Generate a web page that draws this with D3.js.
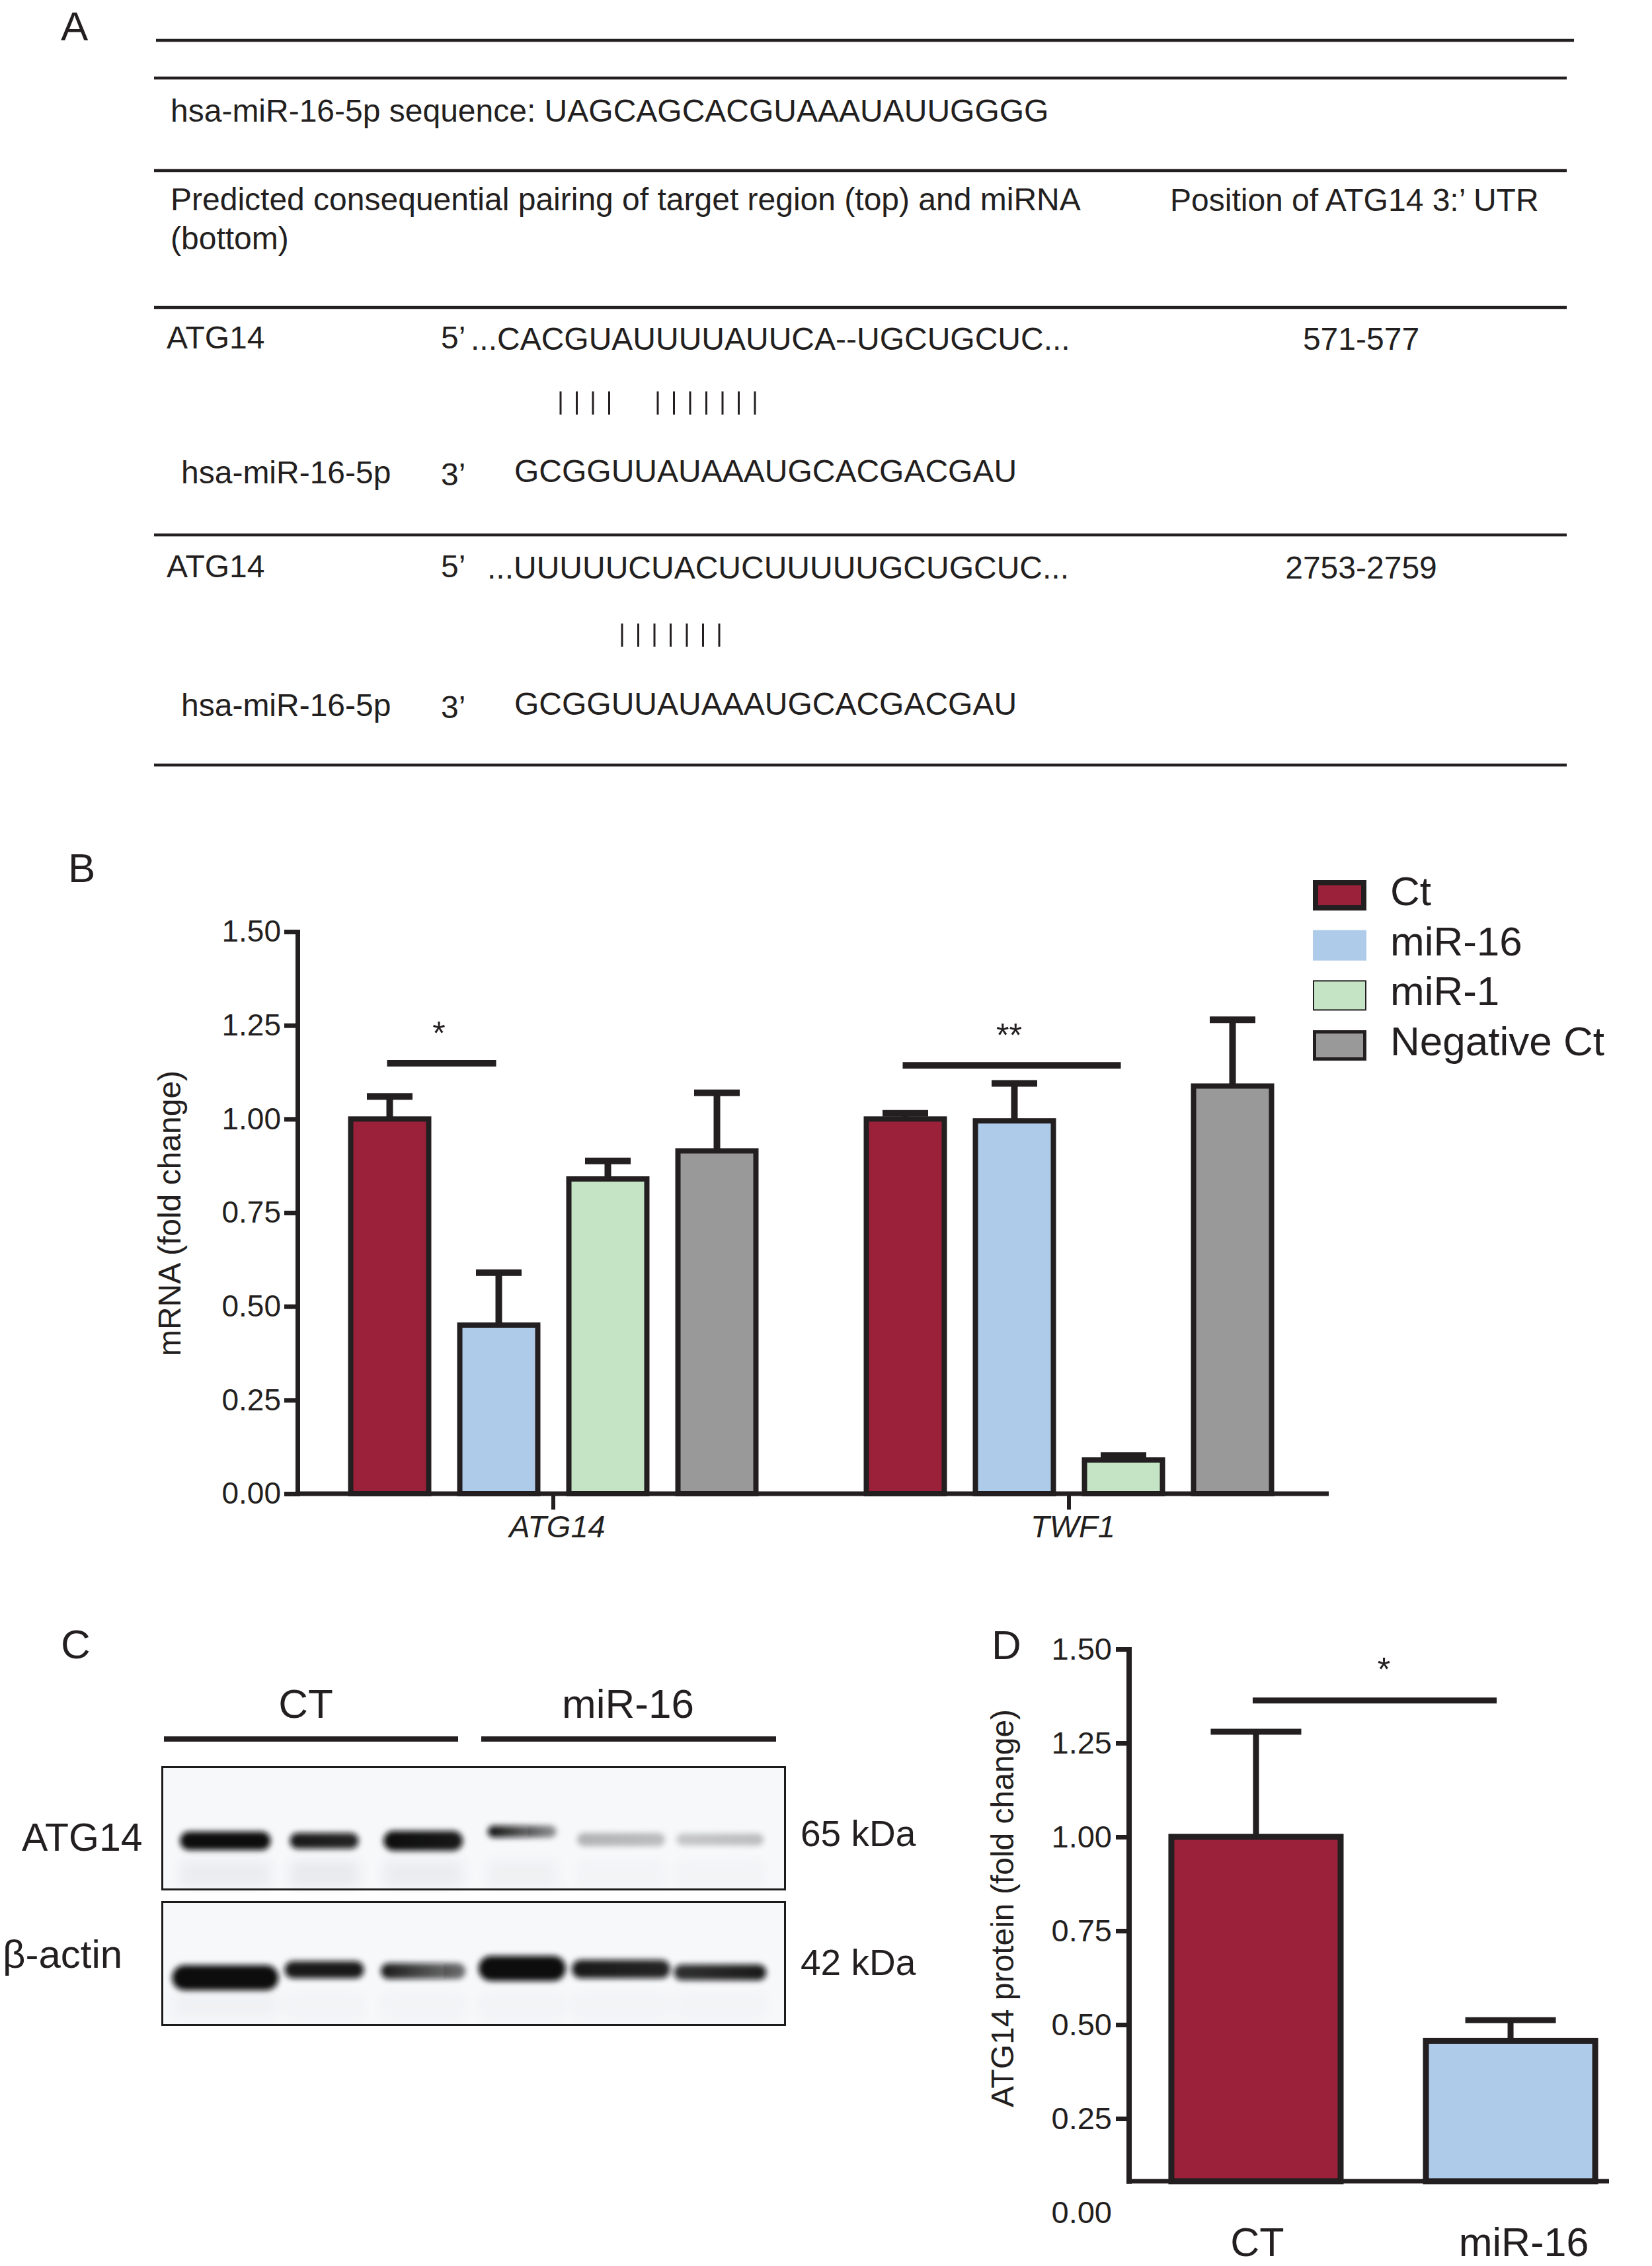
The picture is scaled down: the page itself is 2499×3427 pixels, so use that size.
<!DOCTYPE html>
<html>
<head>
<meta charset="utf-8">
<script src="https://cdn.jsdelivr.net/npm/d3@7"></script>
<style>
  body { margin: 0; background: #ffffff; }
  svg { display: block; }
</style>
</head>
<body>
<div id="chart"></div>
<script>
// ================= DATA =================
// Panel A
const mirName = "hsa-miR-16-5p";
const mirSequence = "UAGCAGCACGUAAAUAUUGGGG";
const siteGenes = ["ATG14", "ATG14"];
const siteTargets = ["...CACGUAUUUUAUUCA--UGCUGCUC...", "...UUUUUCUACUCUUUUUGCUGCUC..."];
const siteMirnas = ["GCGGUUAUAAAUGCACGACGAU", "GCGGUUAUAAAUGCACGACGAU"];
const sitePairings = ["||||  |||||||", "|||||||"];
const sitePositions = ["571-577", "2753-2759"];

// Panel B
const genes = ["ATG14", "TWF1"];
const treatments = ["Ct", "miR-16", "miR-1", "Negative Ct"];
const meanATG14 = [1.00, 0.45, 0.84, 0.915];
const sdATG14   = [0.06, 0.14, 0.048, 0.155];
const meanTWF1  = [1.00, 0.995, 0.09, 1.088];
const sdTWF1    = [0.015, 0.10, 0.012, 0.177];
const yTicksB = [0, 0.25, 0.50, 0.75, 1.00, 1.25, 1.50];
const sigGenesB = ["ATG14", "TWF1"];
const sigFromB = ["Ct", "Ct"];
const sigToB = ["miR-16", "miR-1"];
const sigLevelB = [1.149, 1.143];
const sigLabelB = ["*", "**"];

// Panel C (western blot band intensities, estimated)
const blotGroups = ["CT", "miR-16"];
const blotLanes = ["CT", "CT", "CT", "miR-16", "miR-16", "miR-16"];
const atg14Left  = [1.00, 0.95, 1.00, 1.00, 0.28, 0.20];
const atg14Right = [1.00, 0.90, 0.95, 0.40, 0.24, 0.24];
const atg14Width = [137, 104, 120, 104, 133, 132];
const atg14Thick = [28, 24, 30, 18, 20, 18];
const atg14Shift = [0, 0, 0, -14, -2, -2];
const atg14Faint = [0.06, 0.07, 0.06, 0.04, 0.02, 0.02];
const actinLeft  = [1.00, 0.95, 0.95, 1.00, 0.95, 0.85];
const actinRight = [1.00, 0.95, 0.55, 1.00, 0.90, 0.95];
const actinWidth = [161, 120, 128, 132, 149, 140];
const actinThick = [38, 26, 24, 38, 28, 24];
const actinShift = [8, -4, -2, -6, -5, 0];
const actinFaint = [0.03, 0.02, 0.02, 0.02, 0.02, 0.02];

// Panel D
const groupsD = ["CT", "miR-16"];
const meanD = [1.00, 0.457];
const sdD = [0.28, 0.055];
const yTicksD = [0, 0.25, 0.50, 0.75, 1.00, 1.25, 1.50];
const axisBaseD = 0.083;
const sigLevelD = 1.363;
const sigLabelD = "*";

// ================= DRAWING =================
const W = 2499, H = 3427;
const ink = "#231f20";
const FONT = '"Liberation Sans", Arial, Helvetica, sans-serif';
const colorB = d3.scaleOrdinal().domain(treatments).range(["#9b2039", "#aecbe9", "#c5e4c6", "#999999"]);

const svg = d3.select("#chart").append("svg")
  .attr("width", W).attr("height", H).attr("viewBox", `0 0 ${W} ${H}`)
  .style("font-family", FONT);
const defs = svg.append("defs");

function txt(g, x, y, s, size, opts = {}) {
  const t = g.append("text").attr("x", x).attr("y", y).text(s)
    .attr("font-size", size).attr("fill", ink).attr("font-family", FONT);
  if (opts.anchor) t.attr("text-anchor", opts.anchor);
  if (opts.italic) t.attr("font-style", "italic");
  return t;
}

// Panel letters
[["A", 92, 61], ["B", 103, 1334], ["C", 92, 2508], ["D", 1500, 2509]].forEach(([l, x, y]) => txt(svg, x, y, l, 62));

// ---------- Panel A ----------
const gA = svg.append("g");
const rules = [[236, 2381, 61], [233, 2370, 118], [233, 2370, 258], [233, 2370, 465], [233, 2370, 809], [233, 2370, 1157]];
rules.forEach(([x1, x2, y]) => gA.append("line").attr("x1", x1).attr("x2", x2).attr("y1", y).attr("y2", y)
  .attr("stroke", ink).attr("stroke-width", 4.5));
txt(gA, 258, 184, `${mirName} sequence: ${mirSequence}`, 48);
txt(gA, 258, 318, "Predicted consequential pairing of target region (top) and miRNA", 48);
txt(gA, 258, 377, "(bottom)", 48);
txt(gA, 1770, 319, "Position of ATG14 3:’ UTR", 48);

const siteTopY = [527, 873];
const siteSeqX = [712, 737];
const sitePairY = [592, 943];
const siteBotY = [731, 1083];
const pairStartX = [848, 941];
const pairStep = 24.5;
siteGenes.forEach((gname, i) => {
  txt(gA, 252, siteTopY[i], gname, 48);
  txt(gA, 667, siteTopY[i], "5’", 48);
  txt(gA, siteSeqX[i], siteTopY[i] + 2, siteTargets[i], 48);
  txt(gA, 2059, siteTopY[i] + 2, sitePositions[i], 48, { anchor: "middle" });
  sitePairings[i].split("").forEach((c, k) => {
    if (c !== "|") return;
    const x = pairStartX[i] + k * pairStep;
    gA.append("line").attr("x1", x).attr("x2", x).attr("y1", sitePairY[i]).attr("y2", sitePairY[i] + 35)
      .attr("stroke", ink).attr("stroke-width", 3);
  });
  txt(gA, 274, siteBotY[i], mirName, 48);
  txt(gA, 667, siteBotY[i] + 3, "3’", 48);
  txt(gA, 778, siteBotY[i] - 2, siteMirnas[i], 48);
});

// ---------- Panel B ----------
const gB = svg.append("g");
const yB = d3.scaleLinear().domain([0, 1.5]).range([2259, 1409]);
const xB = d3.scalePoint().domain(genes).range([447, 2007]).padding(0.5);
const xInner = d3.scaleBand().domain(treatments).range([-330, 330]).paddingInner(0.285).paddingOuter(0.1425);
const meansB = { ATG14: meanATG14, TWF1: meanTWF1 };
const sdsB = { ATG14: sdATG14, TWF1: sdTWF1 };
const barDataB = [];
genes.forEach(g => treatments.forEach((t, i) => barDataB.push({ g, t, m: meansB[g][i], s: sdsB[g][i] })));
const bwB = xInner.bandwidth();
const cxB = d => xB(d.g) + xInner(d.t) + bwB / 2;

// error bars
gB.selectAll("line.errv").data(barDataB).join("line").attr("class", "errv")
  .attr("x1", cxB).attr("x2", cxB).attr("y1", d => yB(d.m)).attr("y2", d => yB(d.m + d.s))
  .attr("stroke", ink).attr("stroke-width", 10);
gB.selectAll("line.errc").data(barDataB).join("line").attr("class", "errc")
  .attr("x1", d => cxB(d) - 34.5).attr("x2", d => cxB(d) + 34.5)
  .attr("y1", d => yB(d.m + d.s)).attr("y2", d => yB(d.m + d.s))
  .attr("stroke", ink).attr("stroke-width", 10);
// bars
gB.selectAll("rect.bar").data(barDataB).join("rect").attr("class", "bar")
  .attr("x", d => xB(d.g) + xInner(d.t)).attr("width", bwB)
  .attr("y", d => yB(d.m)).attr("height", d => yB(0) - yB(d.m))
  .attr("fill", d => colorB(d.t)).attr("stroke", ink).attr("stroke-width", 8);

// y axis
const axB = gB.append("g").attr("transform", "translate(450,0)")
  .call(d3.axisLeft(yB).tickValues(yTicksB).tickFormat(d3.format(".2f")).tickSize(20).tickSizeOuter(0).tickPadding(5));
axB.attr("font-size", 46).attr("font-family", FONT);
axB.select(".domain").attr("stroke", ink).attr("stroke-width", 7).attr("stroke-linecap", "square");
axB.selectAll(".tick line").attr("stroke", ink).attr("stroke-width", 7);
axB.selectAll(".tick text").attr("fill", ink);
// x axis
gB.append("line").attr("x1", 447).attr("x2", 2010).attr("y1", yB(0)).attr("y2", yB(0))
  .attr("stroke", ink).attr("stroke-width", 7);
genes.forEach(g => {
  gB.append("line").attr("x1", xB(g)).attr("x2", xB(g)).attr("y1", yB(0)).attr("y2", yB(0) + 24)
    .attr("stroke", ink).attr("stroke-width", 6);
  txt(gB, xB(g) + 6, 2325, g, 47, { anchor: "middle", italic: true });
});
txt(gB, 0, 0, "mRNA (fold change)", 48, { anchor: "middle" })
  .attr("transform", "translate(256,1835) rotate(-90)").attr("dy", "0.35em");

// significance
sigGenesB.forEach((g, i) => {
  const x1 = xB(g) + xInner(sigFromB[i]) + bwB / 2;
  const x2 = xB(g) + xInner(sigToB[i]) + bwB / 2;
  const y = yB(sigLevelB[i]);
  gB.append("line").attr("x1", x1 - 4).attr("x2", x2 - 4).attr("y1", y).attr("y2", y)
    .attr("stroke", ink).attr("stroke-width", 10);
  txt(gB, (x1 + x2) / 2 - 8, y - 28, sigLabelB[i], 50, { anchor: "middle" });
});

// legend
const legStroke = [8, 0, 2, 5];
treatments.forEach((t, i) => {
  const top = 1331 + i * 75.7;
  const s = legStroke[i];
  gB.append("rect").attr("x", 1986 + s / 2).attr("y", top + s / 2).attr("width", 81 - s).attr("height", 46 - s)
    .attr("fill", colorB(t)).attr("stroke", s ? ink : "none").attr("stroke-width", s);
  txt(gB, 2103, top + 38, t, 62);
});

// ---------- Panel C ----------
const gC = svg.append("g");
defs.append("filter").attr("id", "bandBlur").attr("x", "-30%").attr("y", "-150%").attr("width", "160%").attr("height", "400%")
  .append("feGaussianBlur").attr("stdDeviation", 4.5);
defs.append("filter").attr("id", "smudgeBlur").attr("x", "-30%").attr("y", "-150%").attr("width", "160%").attr("height", "400%")
  .append("feGaussianBlur").attr("stdDeviation", 10);
const xLane = d3.scaleBand().domain(d3.range(blotLanes.length)).range([266, 1164]);
const groupLineX = { "CT": [248, 693], "miR-16": [728, 1174] };
blotGroups.forEach(gname => {
  const [a, b] = groupLineX[gname];
  gC.append("line").attr("x1", a).attr("x2", b).attr("y1", 2630).attr("y2", 2630).attr("stroke", ink).attr("stroke-width", 8);
  txt(gC, (a + b) / 2 + (gname === "CT" ? -8 : -1), 2598, gname, 62, { anchor: "middle" });
});
function drawBlot(name, y0, h, cy, left, right, widths, thick, shift, faint) {
  const g = gC.append("g");
  g.append("rect").attr("x", 245.5).attr("y", y0).attr("width", 942).attr("height", h)
    .attr("fill", "#f7f8fa").attr("stroke", "#1b1b1b").attr("stroke-width", 3);
  blotLanes.forEach((lane, i) => {
    const id = `${name}${i}`;
    const cx = xLane(i) + xLane.bandwidth() / 2;
    // faint diffuse smear below the band
    g.append("rect").attr("x", cx - widths[i] / 2).attr("y", cy + 30)
      .attr("width", widths[i]).attr("height", 40)
      .attr("fill", "#303040").attr("opacity", faint[i]).attr("filter", "url(#smudgeBlur)");
    const grad = defs.append("linearGradient").attr("id", id);
    grad.append("stop").attr("offset", "0%").attr("stop-color", "#0a0a0a").attr("stop-opacity", left[i]);
    grad.append("stop").attr("offset", "100%").attr("stop-color", "#0a0a0a").attr("stop-opacity", right[i]);
    g.append("rect").attr("x", cx - widths[i] / 2).attr("y", cy + shift[i] - thick[i] / 2)
      .attr("width", widths[i]).attr("height", thick[i]).attr("rx", thick[i] / 2)
      .attr("fill", `url(#${id})`).attr("filter", "url(#bandBlur)");
  });
}
drawBlot("atg", 2672.5, 185, 2784, atg14Left, atg14Right, atg14Width, atg14Thick, atg14Shift, atg14Faint);
drawBlot("act", 2876.5, 186, 2983, actinLeft, actinRight, actinWidth, actinThick, actinShift, actinFaint);
txt(gC, 33, 2799, "ATG14", 59);
txt(gC, 4, 2976, "β-actin", 60);
txt(gC, 1211, 2792, "65 kDa", 55);
txt(gC, 1211, 2987, "42 kDa", 55);

// ---------- Panel D ----------
const gD = svg.append("g");
const yD = d3.scaleLinear().domain([0, 1.5]).range([3346, 2494]);
const xD = d3.scaleBand().domain(groupsD).range([1708, 2477]).paddingInner(0.335).paddingOuter(0.166);
const baseY = yD(axisBaseD);
const bwD = xD.bandwidth();
const barDataD = groupsD.map((g, i) => ({ g, m: meanD[i], s: sdD[i] }));
const cxD = d => xD(d.g) + bwD / 2;
gD.selectAll("line.errv").data(barDataD).join("line").attr("class", "errv")
  .attr("x1", cxD).attr("x2", cxD).attr("y1", d => yD(d.m)).attr("y2", d => yD(d.m + d.s))
  .attr("stroke", ink).attr("stroke-width", 9);
gD.selectAll("line.errc").data(barDataD).join("line").attr("class", "errc")
  .attr("x1", d => cxD(d) - 68.5).attr("x2", d => cxD(d) + 68.5)
  .attr("y1", d => yD(d.m + d.s)).attr("y2", d => yD(d.m + d.s))
  .attr("stroke", ink).attr("stroke-width", 9);
gD.selectAll("rect.bar").data(barDataD).join("rect").attr("class", "bar")
  .attr("x", d => xD(d.g)).attr("width", bwD)
  .attr("y", d => yD(d.m)).attr("height", d => baseY - yD(d.m))
  .attr("fill", (d, i) => colorB(treatments[i])).attr("stroke", ink).attr("stroke-width", 9);

const axD = gD.append("g").attr("transform", "translate(1708,0)")
  .call(d3.axisLeft(yD).tickValues(yTicksD).tickFormat(d3.format(".2f")).tickSize(20).tickSizeOuter(0).tickPadding(6));
axD.attr("font-size", 47).attr("font-family", FONT);
axD.select(".domain").remove();
axD.selectAll(".tick line").attr("stroke", ink).attr("stroke-width", 7).filter(d => d === 0).remove();
axD.selectAll(".tick text").attr("fill", ink);
gD.append("line").attr("x1", 1708).attr("x2", 1708).attr("y1", yD(1.5) - 3).attr("y2", baseY + 4)
  .attr("stroke", ink).attr("stroke-width", 8);
gD.append("line").attr("x1", 1704).attr("x2", 2434).attr("y1", baseY).attr("y2", baseY)
  .attr("stroke", ink).attr("stroke-width", 7);
groupsD.forEach(g => txt(gD, xD(g) + bwD / 2 + (g === "CT" ? 2 : 20), 3412, g, 61, { anchor: "middle" }));
txt(gD, 0, 0, "ATG14 protein (fold change)", 48, { anchor: "middle" })
  .attr("transform", "translate(1516,2886) rotate(-90)").attr("dy", "0.35em");
{
  const x1 = cxD(barDataD[0]) - 5, x2 = cxD(barDataD[1]) - 21, y = yD(sigLevelD);
  gD.append("line").attr("x1", x1).attr("x2", x2).attr("y1", y).attr("y2", y).attr("stroke", ink).attr("stroke-width", 9);
  txt(gD, (x1 + x2) / 2 + 14, y - 30, sigLabelD, 50, { anchor: "middle" });
}
</script>
</body>
</html>
